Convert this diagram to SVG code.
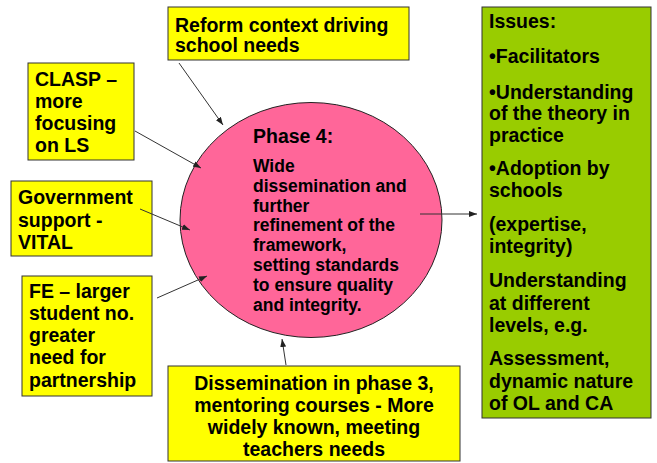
<svg xmlns="http://www.w3.org/2000/svg" width="657" height="463" viewBox="0 0 657 463">
<style>
.box{fill:#FFFF00;stroke:#333;stroke-width:1}
.green{fill:#99CC00;stroke:#333;stroke-width:1}
.t{font-family:"Liberation Sans",Arial,sans-serif;font-weight:bold;font-size:19.5px;fill:#000}
.s{font-size:17.5px}
.c{text-anchor:middle}
.ln{stroke:#333;stroke-width:1;fill:none;marker-end:url(#ah)}
</style>
<defs>
<marker id="ah" viewBox="0 0 8 6" refX="8" refY="3" markerWidth="8" markerHeight="6" markerUnits="userSpaceOnUse" orient="auto">
<path d="M0,0 L8,3 L0,6 Z" fill="#222"/>
</marker>
</defs>
<rect width="657" height="463" fill="#fff"/>
<g id="phase4">
<ellipse cx="311" cy="220" rx="131" ry="117.5" fill="#FF6699" stroke="#222" stroke-width="1"/>
<text class="t" x="253" y="143" style="font-size:19.5px">Phase 4:</text>
<text class="t s" x="253"><tspan x="253" y="172">Wide</tspan><tspan x="253" y="192">dissemination and</tspan><tspan x="253" y="212">further</tspan><tspan x="253" y="231">refinement of the</tspan><tspan x="253" y="251">framework,</tspan><tspan x="253" y="271">setting standards</tspan><tspan x="253" y="291">to ensure quality</tspan><tspan x="253" y="311">and integrity.</tspan></text>
</g>
<g id="reform">
<rect class="box" x="168" y="7" width="241" height="53"/>
<text class="t"><tspan x="175" y="32">Reform context driving</tspan><tspan x="175" y="52">school needs</tspan></text>
</g>
<g id="clasp">
<rect class="box" x="28" y="63" width="106" height="97"/>
<text class="t"><tspan x="35" y="86">CLASP –</tspan><tspan x="35" y="108">more</tspan><tspan x="35" y="130">focusing</tspan><tspan x="35" y="152">on LS</tspan></text>
</g>
<g id="government">
<rect class="box" x="11" y="181" width="141" height="75"/>
<text class="t"><tspan x="18" y="204">Government</tspan><tspan x="18" y="227">support -</tspan><tspan x="18" y="249">VITAL</tspan></text>
</g>
<g id="fe">
<rect class="box" x="22" y="276" width="130" height="120"/>
<text class="t"><tspan x="29" y="298">FE – larger</tspan><tspan x="29" y="320">student no.</tspan><tspan x="29" y="342">greater</tspan><tspan x="29" y="364">need for</tspan><tspan x="29" y="387">partnership</tspan></text>
</g>
<g id="dissemination">
<rect class="box" x="168" y="366" width="292" height="95"/>
<text class="t c"><tspan x="314" y="390">Dissemination in phase 3,</tspan><tspan x="314" y="412">mentoring courses - More</tspan><tspan x="314" y="434">widely known, meeting</tspan><tspan x="314" y="456">teachers needs</tspan></text>
</g>
<g id="issues">
<rect class="green" x="482" y="7" width="169" height="411"/>
<text class="t"><tspan x="489" y="28">Issues:</tspan><tspan x="489" y="63">•Facilitators</tspan><tspan x="489" y="99">•Understanding</tspan><tspan x="489" y="120">of the theory in</tspan><tspan x="489" y="142">practice</tspan><tspan x="489" y="175">•Adoption by</tspan><tspan x="489" y="197">schools</tspan><tspan x="489" y="231">(expertise,</tspan><tspan x="489" y="253">integrity)</tspan><tspan x="489" y="287">Understanding</tspan><tspan x="489" y="310">at different</tspan><tspan x="489" y="332">levels, e.g.</tspan><tspan x="489" y="365">Assessment,</tspan><tspan x="489" y="388">dynamic nature</tspan><tspan x="489" y="410">of OL and CA</tspan></text>
</g>
<g id="connectors">
<line class="ln" x1="179" y1="63" x2="223" y2="125"/>
<line class="ln" x1="135" y1="131" x2="201" y2="168"/>
<line class="ln" x1="140" y1="209" x2="190" y2="230"/>
<line class="ln" x1="157" y1="298" x2="207" y2="276"/>
<line class="ln" x1="286" y1="365" x2="282" y2="339"/>
<line class="ln" x1="420" y1="214" x2="477" y2="214"/>
</g>
</svg>
